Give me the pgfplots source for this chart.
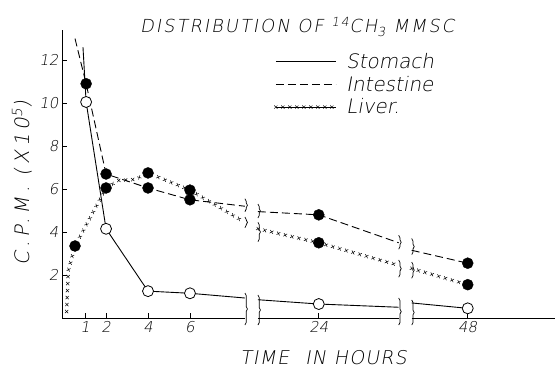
\documentclass[border=0pt]{standalone}
\usepackage{fontspec}
\usepackage{pgfplots}
\pgfplotsset{compat=1.18}
\usetikzlibrary{decorations.markings,decorations.pathreplacing}
\newfontfamily\hand[FakeSlant=0.18]{DejaVu Sans ExtraLight}
\newfontfamily\handT[FakeSlant=0.18,LetterSpace=11]{DejaVu Sans ExtraLight}
\newfontfamily\handY[FakeSlant=0.18,LetterSpace=20]{DejaVu Sans ExtraLight}
\newfontfamily\handX[FakeSlant=0.18,LetterSpace=6]{DejaVu Sans ExtraLight}
\tikzset{
 xline/.style={draw=none, postaction={decorate}, decoration={markings, mark=between positions 0 and 1 step 7bp with {\draw[solid,line width=0.5pt,black] (-1.6bp,-1.6bp)--(1.6bp,1.6bp) (-1.6bp,1.6bp)--(1.6bp,-1.6bp);}}},
 brk/.style={decorate, decoration={brace, amplitude=2.5bp}, line width=0.7pt, black},
}
\begin{document}
\begin{tikzpicture}
\path[use as bounding box] (0,0) rectangle (558bp,367bp);
\begin{axis}[
 at={(62bp,49bp)}, anchor=south west, scale only axis, width=493bp, height=288bp,
 xmin=-0.1, xmax=23.4, ymin=0, ymax=13.4,
 axis lines=left, axis line style={-, line width=0.8pt}, x axis line style={draw=none},
 tick align=inside, major tick length=5bp, tick style={line width=0.7pt, black},
 xtick={1,2,4,6,12.14,19.24}, xticklabels={1,2,4,6,24,48},
 ytick={2,4,6,8,10,12},
 ticklabel style={font=\hand\fontsize{15}{15}\selectfont},
 /pgf/number format/assume math mode=true,
 clip=false,
 legend style={at={(axis cs:9.85,12.5)}, anchor=north west, draw=none, fill=none,
   font=\hand\fontsize{20}{22}\selectfont, row sep=2bp,
   /tikz/every odd column/.append style={column sep=8bp}},
 legend cell align=left,
 legend image code/.code={\draw[#1] (0bp,0bp)--(60bp,0bp);},
]
\addlegendimage{black, line width=0.9pt}
\addlegendentry{Stomach}
\addlegendimage{black, line width=0.9pt, dash pattern=on 8bp off 4bp}
\addlegendentry{Intestine}
\addlegendimage{xline}
\addlegendentry{Liver.}

% x axis with breaks
\draw[line width=0.8pt] (axis cs:-0.1,0) -- (axis cs:8.62,0);
\draw[line width=0.8pt] (axis cs:9.24,0) -- (axis cs:15.95,0);
\draw[line width=0.8pt] (axis cs:16.57,0) -- (axis cs:23.4,0);

% Stomach
\addplot[black, line width=0.9pt] coordinates {(0.9,12.6) (1.05,10.05) (2,4.15) (4,1.25) (6,1.15) (8.62,0.93)};
\addplot[black, line width=0.9pt] coordinates {(9.24,0.85) (12.14,0.65) (15.95,0.5)};
\addplot[black, line width=0.9pt] coordinates {(16.57,0.7) (19.24,0.45)};
% Intestine
\addplot[black, line width=0.9pt, dash pattern=on 8bp off 4bp] coordinates {(0.52,13.0) (1.05,10.9) (2,6.7) (4,6.05) (6,5.5) (8.62,5.2)};
\addplot[black, line width=0.9pt, dash pattern=on 8bp off 4bp] coordinates {(9.24,4.95) (12.14,4.8) (15.95,3.5)};
\addplot[black, line width=0.9pt, dash pattern=on 8bp off 4bp] coordinates {(16.57,3.15) (19.24,2.55)};
% Liver
\addplot[xline] coordinates {(0.12,0.3) (0.2,2.2) (0.52,3.35) (2,6.05) (2.6,6.4) (3.4,6.45) (4,6.75) (6,5.95) (8.62,4.45)};
\addplot[xline] coordinates {(9.24,4.15) (12.14,3.5) (15.95,2.45)};
\addplot[xline] coordinates {(16.57,2.3) (19.24,1.55)};

% breaks
\draw[brk] (axis cs:8.62,5.55) -- (axis cs:8.62,4.95);
\draw[brk] (axis cs:9.24,5.3) -- (axis cs:9.24,4.65);
\draw[brk] (axis cs:8.62,4.7) -- (axis cs:8.62,4.2);
\draw[brk] (axis cs:9.24,4.45) -- (axis cs:9.24,3.55);
\draw[brk] (axis cs:8.62,1.16) -- (axis cs:8.62,-0.33);
\draw[brk] (axis cs:9.24,1.07) -- (axis cs:9.24,-0.33);
\draw[brk] (axis cs:15.95,3.85) -- (axis cs:15.95,3.2);
\draw[brk] (axis cs:16.57,3.7) -- (axis cs:16.57,2.95);
\draw[brk] (axis cs:15.95,2.7) -- (axis cs:15.95,1.9);
\draw[brk] (axis cs:16.57,2.6) -- (axis cs:16.57,1.85);
\draw[brk] (axis cs:15.95,0.93) -- (axis cs:15.95,-0.33);
\draw[brk] (axis cs:16.57,0.84) -- (axis cs:16.57,-0.33);

% markers
\addplot[only marks, mark=*, mark size=5.5bp, mark options={fill=black, draw=black}] coordinates {(1.05,10.9) (2,6.7) (4,6.05) (6,5.5) (12.14,4.8) (19.24,2.55)};
\addplot[only marks, mark=*, mark size=5.5bp, mark options={fill=black, draw=black}] coordinates {(0.52,3.35) (2,6.05) (4,6.75) (6,5.95) (12.14,3.5) (19.24,1.55)};
\addplot[only marks, mark=*, mark size=5.5bp, mark options={fill=white, draw=black, line width=0.8pt}] coordinates {(1.05,10.05) (2,4.15) (4,1.25) (6,1.15) (12.14,0.65) (19.24,0.45)};
\end{axis}
\node[anchor=base west, inner sep=0pt] at (140bp,334bp) {\handT\fontsize{18}{18}\selectfont DISTRIBUTION OF \textsuperscript{14}CH\textsubscript{3} MMSC};
\node[rotate=90, inner sep=0pt] at (22bp,184bp) {\handY\fontsize{20}{20}\selectfont C.P.M. (X10\textsuperscript{5})};
\node[anchor=base west, inner sep=0pt] at (240bp,3bp) {\handX\fontsize{19}{19}\selectfont TIME\hspace{16bp}IN\hspace{8bp}HOURS};
\end{tikzpicture}
\end{document}
